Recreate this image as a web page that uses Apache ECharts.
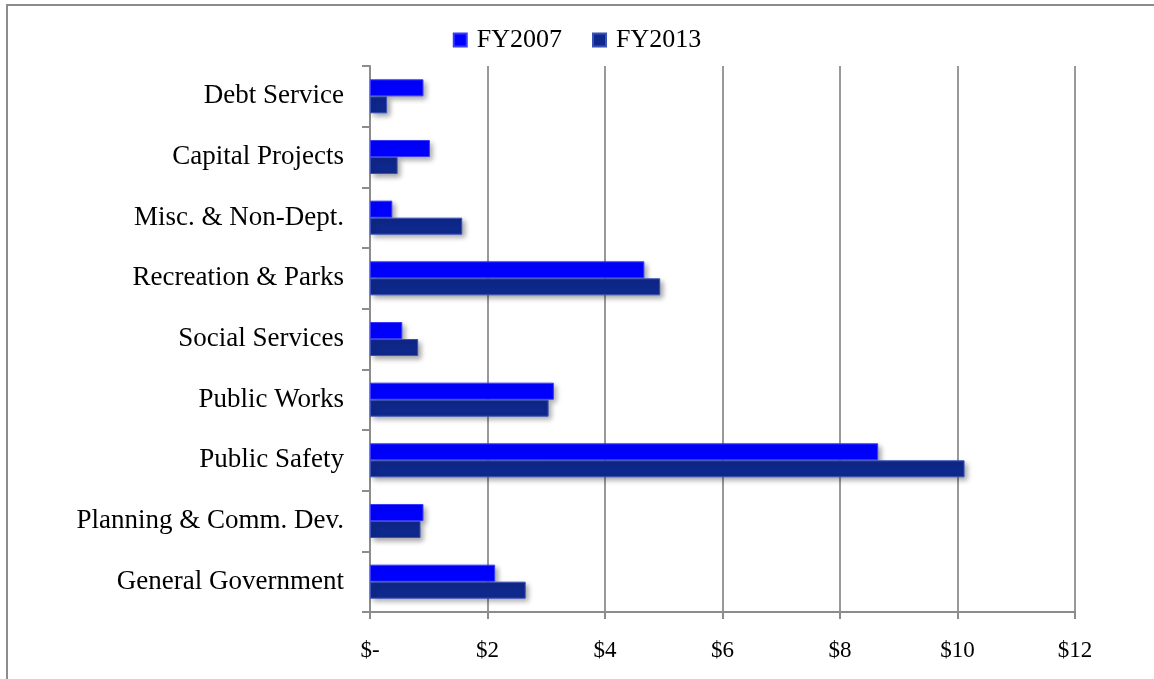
<!DOCTYPE html>
<html>
<head>
<meta charset="utf-8">
<title>Expenditures by Function</title>
<script src="https://cdn.jsdelivr.net/npm/echarts@6/dist/echarts.min.js"></script>
<style>
  html, body { margin: 0; padding: 0; background: #ffffff; }
  #chart { width: 1154px; height: 679px; }
</style>
</head>
<body>
<div id="chart"></div>
<script>
// Spending by function, in millions of dollars (top to bottom)
const categories = [
  'Debt Service',
  'Capital Projects',
  'Misc. & Non-Dept.',
  'Recreation & Parks',
  'Social Services',
  'Public Works',
  'Public Safety',
  'Planning & Comm. Dev.',
  'General Government'
];
const seriesNames = ['FY2007', 'FY2013'];
const fy2007 = [0.91, 1.02, 0.38, 4.67, 0.55, 3.13, 8.65, 0.91, 2.13];
const fy2013 = [0.29, 0.47, 1.57, 4.94, 0.82, 3.04, 10.12, 0.86, 2.65];
const xTicks = [0, 2, 4, 6, 8, 10, 12];

const FONT = '"Liberation Serif", "DejaVu Serif", serif';
const GRAY = '#8c8c8c';

const chart = echarts.init(document.getElementById('chart'), null, { renderer: 'canvas' });

function barSeries(name, values, color, border) {
  return {
    name: name,
    type: 'bar',
    data: values,
    barWidth: 17,
    barGap: '0%',
    itemStyle: {
      color: color,
      borderColor: border,
      borderWidth: 1,
      shadowColor: 'rgba(0,0,0,0.35)',
      shadowBlur: 5,
      shadowOffsetX: 3,
      shadowOffsetY: 3
    }
  };
}

chart.setOption({
  animation: false,
  backgroundColor: '#ffffff',
  graphic: [{
    type: 'rect',
    shape: { x: 7, y: 5, width: 1200, height: 720 },
    style: { fill: 'none', stroke: GRAY, lineWidth: 2 },
    silent: true,
    z: -1
  }],
  legend: {
    data: seriesNames,
    top: 22,
    left: 'center',
    itemWidth: 13,
    itemHeight: 13,
    itemGap: 30,
    icon: 'rect',
    textStyle: { fontFamily: FONT, fontSize: 26, color: '#000', padding: [0, 0, 0, 5] }
  },
  grid: { left: 370, right: 79, top: 66, bottom: 67, containLabel: false },
  xAxis: {
    type: 'value',
    min: xTicks[0],
    max: xTicks[xTicks.length - 1],
    interval: 2,
    axisLine: { show: true, lineStyle: { color: GRAY, width: 2 } },
    axisTick: { show: true, length: 7, lineStyle: { color: GRAY, width: 2 } },
    splitLine: { show: true, lineStyle: { color: '#999999', width: 2 } },
    axisLabel: {
      margin: 27,
      fontFamily: FONT,
      fontSize: 23,
      color: '#000',
      formatter: v => (v === 0 ? '$-' : '$' + v)
    }
  },
  yAxis: {
    type: 'category',
    data: categories,
    inverse: true,
    axisLine: { show: true, lineStyle: { color: GRAY, width: 2 } },
    axisTick: { show: true, length: 8, lineStyle: { color: GRAY, width: 2 } },
    splitLine: { show: false },
    axisLabel: {
      margin: 26,
      fontFamily: FONT,
      fontSize: 27,
      color: '#000'
    }
  },
  series: [
    barSeries(seriesNames[0], fy2007, '#0000ff', '#3a3aff'),
    barSeries(seriesNames[1], fy2013, '#0f288c', '#3a52b8')
  ]
});
</script>
</body>
</html>
